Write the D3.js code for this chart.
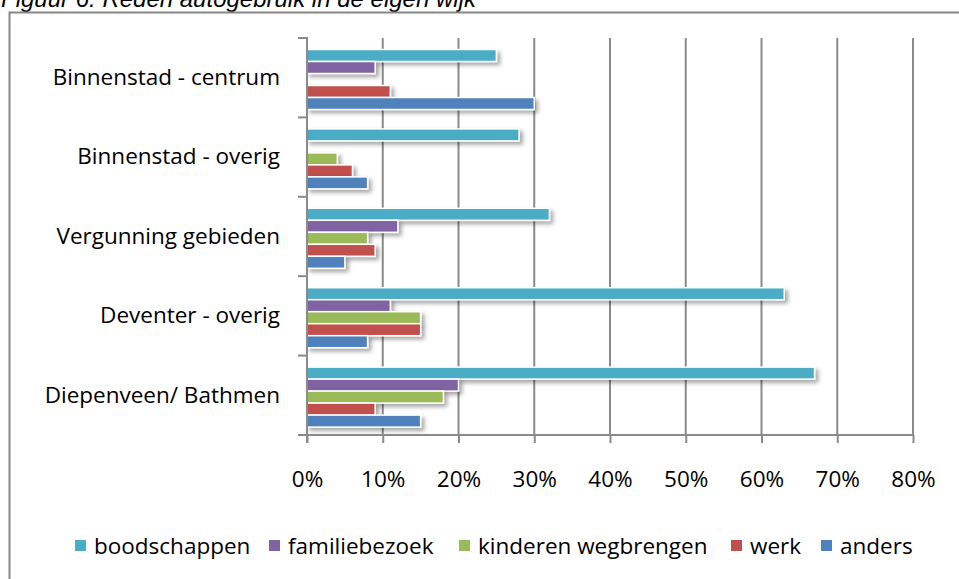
<!DOCTYPE html>
<html>
<head>
<meta charset="utf-8">
<script src="https://cdn.jsdelivr.net/npm/d3@7"></script>
<style>
  html, body { margin: 0; padding: 0; background: #fff; }
  svg { display: block; }
</style>
</head>
<body>
<div id="chart"></div>
<script>
// categories top to bottom, as in the picture
const categories = ['Binnenstad - centrum', 'Binnenstad - overig', 'Vergunning gebieden', 'Deventer - overig', 'Diepenveen/ Bathmen'];
// series top to bottom inside each group
const seriesNames = ['boodschappen', 'familiebezoek', 'kinderen wegbrengen', 'werk', 'anders'];
const seriesColors = ['#4BACC6', '#8064A2', '#9BBB59', '#C0504D', '#4F81BD'];

// values in percent, one array per series, in the category order above
const boodschappen = [25, 28, 32, 63, 67];
const familiebezoek = [9, 0, 12, 11, 20];
const kinderen = [0, 4, 8, 15, 18];
const werk = [11, 6, 9, 15, 9];
const anders = [30, 8, 5, 8, 15];

const xTicks = [0, 10, 20, 30, 40, 50, 60, 70, 80];
const title = 'Figuur 6: Reden autogebruik in de eigen wijk';

const seriesValues = [boodschappen, familiebezoek, kinderen, werk, anders];

function drawChart() {
  const W = 959, H = 579;
  const font = "'Open Sans', sans-serif";
  const fontSize = 22.5;
  const plot = { left: 307, right: 913, top: 38, bottom: 435 };

  const svg = d3.select('#chart').append('svg')
    .attr('width', W).attr('height', H)
    .style('font-family', font);

  // soft shadow behind the bars
  const defs = svg.append('defs');
  defs.append('filter')
    .attr('id', 'shadow')
    .attr('x', '-10%').attr('y', '-50%').attr('width', '130%').attr('height', '250%')
    .append('feDropShadow')
    .attr('dx', 3).attr('dy', 3).attr('stdDeviation', 2)
    .attr('flood-color', '#000').attr('flood-opacity', 0.35);

  // title, cut off at the top of the page (as in the source)
  svg.append('text')
    .attr('x', 1).attr('y', 7)
    .attr('font-family', "'Liberation Sans', Arial, sans-serif")
    .attr('font-style', 'italic')
    .attr('font-size', 24)
    .attr('fill', '#000')
    .text(title);

  // chart frame
  svg.append('rect')
    .attr('x', 9.5).attr('y', 12.5)
    .attr('width', 960).attr('height', 600)
    .attr('fill', 'none')
    .attr('stroke', '#878787').attr('stroke-width', 2);

  const x = d3.scaleLinear().domain([0, 80]).range([plot.left, plot.right]);
  const y = d3.scaleBand().domain(categories).range([plot.top, plot.bottom]);
  const inner = d3.scaleBand().domain(seriesNames).range([11.5, 71.5]);

  // vertical grid lines
  svg.append('g')
    .selectAll('line')
    .data(xTicks.slice(1))
    .join('line')
    .attr('x1', d => x(d)).attr('x2', d => x(d))
    .attr('y1', plot.top).attr('y2', plot.bottom)
    .attr('stroke', '#8a8a8a').attr('stroke-width', 2);

  // bars
  const rows = [];
  categories.forEach((c, i) => {
    seriesNames.forEach((s, j) => {
      rows.push({ cat: c, series: s, value: seriesValues[j][i], color: seriesColors[j] });
    });
  });

  svg.append('g')
    .selectAll('rect')
    .data(rows.filter(d => d.value > 0))
    .join('rect')
    .attr('x', x(0))
    .attr('y', d => y(d.cat) + inner(d.series))
    .attr('width', d => x(d.value) - x(0))
    .attr('height', inner.bandwidth())
    .attr('fill', d => d.color)
    .attr('stroke', '#fff').attr('stroke-width', 1.5)
    .attr('filter', 'url(#shadow)');

  // category axis
  const yAxis = svg.append('g')
    .attr('transform', `translate(${plot.left},0)`)
    .call(d3.axisLeft(y).tickSize(0).tickPadding(27));
  yAxis.select('.domain').remove();
  yAxis.selectAll('text')
    .attr('font-family', font).attr('font-size', fontSize).attr('fill', '#000');

  // category separators (ticks between groups)
  const bounds = categories.map(c => y(c)).concat([plot.bottom]);
  svg.append('g')
    .selectAll('line')
    .data(bounds)
    .join('line')
    .attr('x1', plot.left - 9).attr('x2', plot.left)
    .attr('y1', d => d).attr('y2', d => d)
    .attr('stroke', '#8a8a8a').attr('stroke-width', 2);
  svg.append('line')
    .attr('x1', plot.left).attr('x2', plot.left)
    .attr('y1', plot.top - 1).attr('y2', plot.bottom + 8)
    .attr('stroke', '#8a8a8a').attr('stroke-width', 2);

  // value axis
  const xAxis = svg.append('g')
    .attr('transform', `translate(0,${plot.bottom})`)
    .call(d3.axisBottom(x).tickValues(xTicks).tickFormat(d => d + '%').tickSize(8).tickSizeOuter(0).tickPadding(28));
  xAxis.select('.domain').attr('stroke', '#8a8a8a').attr('stroke-width', 2)
    .attr('d', `M${plot.left - 9},0H${plot.right}`);
  xAxis.selectAll('.tick line').attr('stroke', '#8a8a8a').attr('stroke-width', 2);
  xAxis.selectAll('text')
    .attr('font-family', font).attr('font-size', fontSize).attr('fill', '#000');

  // legend
  const legendX = [75, 269, 459, 731, 821];
  const legend = svg.append('g')
    .selectAll('g')
    .data(seriesNames)
    .join('g')
    .attr('transform', (d, i) => `translate(${legendX[i]},547)`);
  legend.append('rect')
    .attr('x', 0).attr('y', -7)
    .attr('width', 11).attr('height', 11)
    .attr('fill', (d, i) => seriesColors[i]);
  legend.append('text')
    .attr('x', 19).attr('y', 0)
    .attr('dy', '0.32em')
    .attr('font-size', fontSize).attr('fill', '#000')
    .text(d => d);
}

drawChart();
</script>
</body>
</html>
